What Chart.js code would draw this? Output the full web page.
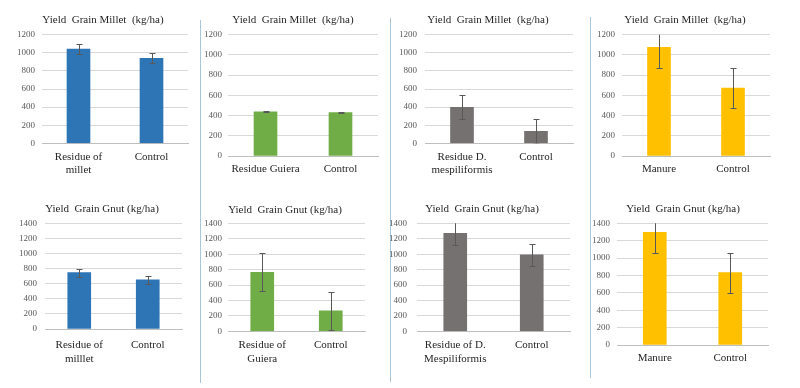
<!DOCTYPE html>
<html>
<head>
<meta charset="utf-8">
<script src="https://cdn.jsdelivr.net/npm/chart.js@4.4.0/dist/chart.umd.min.js"></script>
<style>
  html, body { margin: 0; padding: 0; background: #fff; }
  #wrap { position: relative; width: 800px; height: 388px; overflow: hidden; }
  #wrap canvas { position: absolute; }
  .sep { position: absolute; width: 1px; background: #a9c7d8; }
</style>
</head>
<body>
<div id="wrap"></div>
<script>
// titles
const titleMillet = 'Yield  Grain Millet  (kg/ha)';
const titleGnut = 'Yield  Grain Gnut (kg/ha)';

// categories
const labelsMilletMillet = [['Residue of', 'millet'], 'Control'];
const labelsMilletGuiera = ['Residue Guiera', 'Control'];
const labelsMilletMesp = [['Residue D.', 'mespiliformis'], 'Control'];
const labelsMilletManure = ['Manure', 'Control'];
const labelsGnutMillet = [['Residue of', 'milllet'], 'Control'];
const labelsGnutGuiera = [['Residue of', 'Guiera'], 'Control'];
const labelsGnutMesp = [['Residue of D.', 'Mespiliformis'], 'Control'];
const labelsGnutManure = ['Manure', 'Control'];

// yields and error bar half-lengths (kg/ha)
const milletMillet = [1042, 940];
const milletMilletErr = [60, 55];
const milletGuiera = [438, 430];
const milletGuieraErr = [5, 5];
const milletMesp = [398, 133];
const milletMespErr = [135, 135];
const milletManure = [1075, 672];
const milletManureErr = [200, 200];
const gnutMillet = [746, 650];
const gnutMilletErr = [53, 48];
const gnutGuiera = [765, 265];
const gnutGuieraErr = [248, 250];
const gnutMesp = [1270, 990];
const gnutMespErr = [147, 140];
const gnutManure = [1297, 832];
const gnutManureErr = [240, 232];

// y axis ranges
const milletMax = 1200;
const gnutMax = 1400;
const yStep = 200;

const serif = "'Liberation Serif', 'Times New Roman', serif";
const colors = { blue: '#2e75b6', green: '#70ad47', gray: '#767171', gold: '#ffc000' };

const panels = [
  { title: titleMillet, labels: labelsMilletMillet, values: milletMillet, errors: milletMilletErr, max: milletMax, color: colors.blue },
  { title: titleMillet, labels: labelsMilletGuiera, values: milletGuiera, errors: milletGuieraErr, max: milletMax, color: colors.green },
  { title: titleMillet, labels: labelsMilletMesp, values: milletMesp, errors: milletMespErr, max: milletMax, color: colors.gray },
  { title: titleMillet, labels: labelsMilletManure, values: milletManure, errors: milletManureErr, max: milletMax, color: colors.gold },
  { title: titleGnut, labels: labelsGnutMillet, values: gnutMillet, errors: gnutMilletErr, max: gnutMax, color: colors.blue },
  { title: titleGnut, labels: labelsGnutGuiera, values: gnutGuiera, errors: gnutGuieraErr, max: gnutMax, color: colors.green },
  { title: titleGnut, labels: labelsGnutMesp, values: gnutMesp, errors: gnutMespErr, max: gnutMax, color: colors.gray },
  { title: titleGnut, labels: labelsGnutManure, values: gnutManure, errors: gnutManureErr, max: gnutMax, color: colors.gold }
];

// where each panel sits on the page: title centre, plot box, tick label edge
const layouts = [
  { row: 0, Tc: 103, Ty: 20, L: 42, R: 188, T: 34.7, B: 143.3, tickRight: 35, labY: 157 },
  { row: 0, Tc: 293, Ty: 20, L: 228, R: 378, T: 34.7, B: 156, tickRight: 222, labY: 169 },
  { row: 0, Tc: 488, Ty: 20, L: 425, R: 573, T: 34.7, B: 143.3, tickRight: 417, labY: 157 },
  { row: 0, Tc: 685, Ty: 20, L: 622, R: 770, T: 34.7, B: 156, tickRight: 615, labY: 169 },
  { row: 194, Tc: 102, Ty: 209, L: 45, R: 182, T: 223.3, B: 329, tickRight: 37, labY: 345.5 },
  { row: 194, Tc: 285, Ty: 210.5, L: 228, R: 365, T: 223.3, B: 331.3, tickRight: 222, labY: 345.5 },
  { row: 194, Tc: 482, Ty: 209, L: 417, R: 570, T: 223.3, B: 331.3, tickRight: 407, labY: 345.5 },
  { row: 194, Tc: 683, Ty: 209, L: 617, R: 768, T: 223.3, B: 345, tickRight: 610, labY: 358.5 }
];
const yAxisWidth = 28;

// vertical separators between the columns
const separators = [
  { x: 200, y1: 20, y2: 383 },
  { x: 390, y1: 18, y2: 382 },
  { x: 590, y1: 17, y2: 378 }
];

const wrap = document.getElementById('wrap');
separators.forEach(s => {
  const d = document.createElement('div');
  d.className = 'sep';
  d.style.left = s.x + 'px';
  d.style.top = s.y1 + 'px';
  d.style.height = (s.y2 - s.y1) + 'px';
  wrap.appendChild(d);
});

const errorBars = {
  id: 'errorBars',
  afterDatasetsDraw(chart, args, opts) {
    const { ctx, chartArea } = chart;
    const y = chart.scales.y;
    const values = chart.data.datasets[0].data;
    const meta = chart.getDatasetMeta(0);
    ctx.save();
    ctx.beginPath();
    ctx.rect(chartArea.left, chartArea.top, chartArea.right - chartArea.left, chartArea.bottom - chartArea.top);
    ctx.clip();
    ctx.strokeStyle = opts.color;
    ctx.lineWidth = 1;
    meta.data.forEach((bar, i) => {
      const x = Math.round(bar.x) + 0.5;
      const top = Math.round(y.getPixelForValue(values[i] + opts.errors[i])) + 0.5;
      const bot = Math.round(y.getPixelForValue(Math.max(0, values[i] - opts.errors[i]))) + 0.5;
      ctx.beginPath();
      ctx.moveTo(x, top); ctx.lineTo(x, bot);
      ctx.moveTo(x - 3, top); ctx.lineTo(x + 3, top);
      ctx.moveTo(x - 3, bot); ctx.lineTo(x + 3, bot);
      ctx.stroke();
    });
    ctx.restore();
  }
};

panels.forEach((p, i) => {
  const lay = layouts[i];
  // title box runs from the left of the y axis to the right of an empty spacer axis,
  // so its centre lands on Tc
  const boxLeft = lay.L - yAxisWidth;
  const boxRight = 2 * lay.Tc - boxLeft;
  const cx = Math.floor(boxLeft) - 2;
  const cw = Math.ceil(boxRight - cx) + 2;
  const cy = lay.row;
  const ch = 194;

  const canvas = document.createElement('canvas');
  canvas.width = cw;
  canvas.height = ch;
  canvas.style.left = cx + 'px';
  canvas.style.top = cy + 'px';
  wrap.appendChild(canvas);

  new Chart(canvas, {
    type: 'bar',
    data: {
      labels: p.labels,
      datasets: [{
        data: p.values,
        backgroundColor: p.color,
        borderWidth: 0,
        barThickness: 23
      }]
    },
    plugins: [errorBars],
    options: {
      responsive: false,
      animation: false,
      devicePixelRatio: 1,
      layout: {
        padding: { left: boxLeft - cx, right: cx + cw - boxRight, top: 0, bottom: 0 }
      },
      plugins: {
        legend: { display: false },
        tooltip: { enabled: false },
        title: {
          display: true,
          text: p.title,
          color: '#262626',
          font: { family: serif, size: 11, weight: 'normal', lineHeight: 1.2 },
          padding: { top: lay.Ty - 6.6 - cy, bottom: lay.T - lay.Ty - 6.6 }
        },
        errorBars: { errors: p.errors, color: '#595959' }
      },
      scales: {
        x: {
          grid: { display: false, drawTicks: false },
          border: { display: true, color: '#bfbfbf' },
          ticks: {
            color: '#262626',
            font: { family: serif, size: 11, lineHeight: 1.2 },
            padding: lay.labY - lay.B - 6.6,
            maxRotation: 0, minRotation: 0, autoSkip: false
          },
          afterFit(scale) { scale.height = cy + ch - lay.B; }
        },
        y: {
          min: 0,
          max: p.max,
          grid: {
            drawTicks: false,
            color: ctx => ctx.tick && ctx.tick.value === 0 ? '#bfbfbf' : '#d9d9d9'
          },
          border: { display: false },
          ticks: {
            stepSize: yStep,
            autoSkip: false,
            color: '#595959',
            font: { family: serif, size: 9 },
            padding: lay.L - lay.tickRight,
            callback: v => String(v)
          },
          afterFit(scale) { scale.width = yAxisWidth; }
        },
        spacer: {
          type: 'linear',
          position: 'right',
          display: true,
          grid: { display: false, drawTicks: false },
          border: { display: false },
          ticks: { display: false },
          afterFit(scale) { scale.width = boxRight - lay.R; }
        }
      }
    }
  });
});
</script>
</body>
</html>
